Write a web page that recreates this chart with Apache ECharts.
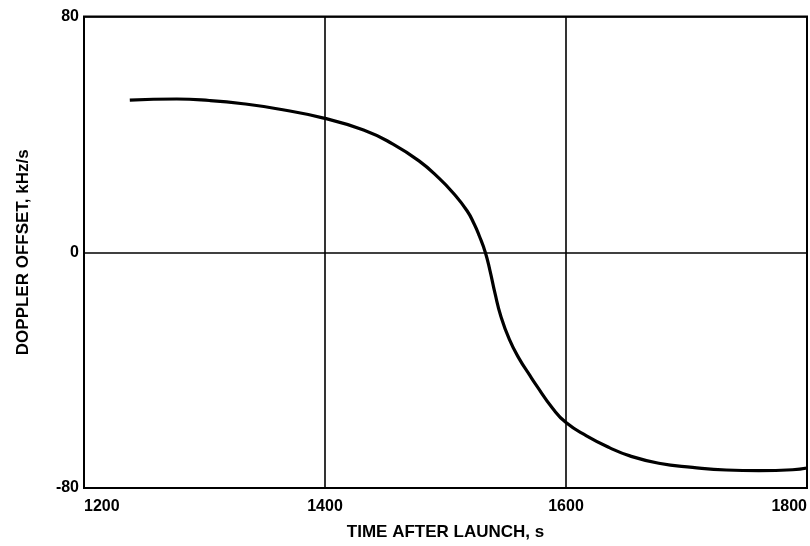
<!DOCTYPE html>
<html>
<head>
<meta charset="utf-8">
<script src="https://cdn.jsdelivr.net/npm/echarts@6/dist/echarts.min.js"></script>
<style>
html,body{margin:0;padding:0;background:#fff;}
#chart{width:810px;height:546px;}
</style>
</head>
<body>
<div id="chart"></div>
<script>
const timeValues = [1238, 1277, 1304, 1332, 1360, 1398, 1432, 1456, 1478, 1495, 1506, 1518, 1524, 1528, 1533, 1537, 1541, 1546, 1553, 1561, 1570, 1575, 1589, 1600, 1617, 1636, 1653, 1677, 1705, 1733, 1760, 1788, 1800];
const dopplerValues = [51.6, 52.0, 51.5, 50.4, 48.7, 45.6, 41.5, 36.8, 31.0, 25.0, 20.3, 14.0, 9.4, 5.6, 0.0, -6.4, -13.8, -21.8, -29.6, -36.0, -41.8, -44.9, -53.0, -57.8, -62.3, -66.3, -69.1, -71.6, -73.0, -73.9, -74.1, -73.8, -73.2];
const xTicks = [1200, 1400, 1600, 1800];
const yTicks = [-80, 0, 80];
const xTitle = 'TIME AFTER LAUNCH, s';
const yTitle = 'DOPPLER OFFSET, kHz/s';

const points = timeValues.map((t, i) => [t, dopplerValues[i]]);
const font = '"Liberation Sans", Arial, sans-serif';

const chart = echarts.init(document.getElementById('chart'), null, {renderer: 'canvas'});
chart.setOption({
  animation: false,
  backgroundColor: '#fff',
  grid: {
    left: 84, right: 2, top: 16.5, bottom: 55.5,
    show: true, borderColor: '#000', borderWidth: 2, backgroundColor: 'transparent'
  },
  xAxis: {
    type: 'value',
    min: xTicks[0], max: xTicks[xTicks.length - 1], interval: 200,
    name: xTitle, nameLocation: 'middle', nameGap: 36,
    nameTextStyle: {color: '#000', fontFamily: font, fontWeight: 'bold', fontSize: 17},
    axisLine: {show: false},
    axisTick: {show: false},
    axisLabel: {
      color: '#000', fontFamily: font, fontWeight: 'bold', fontSize: 16, margin: 11,
      alignMinLabel: 'left', alignMaxLabel: 'right',
      formatter: v => String(v)
    },
    splitLine: {show: true, lineStyle: {color: '#000', width: 1.6}}
  },
  yAxis: {
    type: 'value',
    min: yTicks[0], max: yTicks[yTicks.length - 1], interval: 80,
    name: yTitle, nameLocation: 'middle', nameGap: 52, nameRotate: 90,
    nameTextStyle: {color: '#000', fontFamily: font, fontWeight: 'bold', fontSize: 17},
    axisLine: {show: false},
    axisTick: {show: false},
    axisLabel: {color: '#000', fontFamily: font, fontWeight: 'bold', fontSize: 16, margin: 5,
      formatter: v => String(v)},
    splitLine: {show: true, lineStyle: {color: '#000', width: 1.6}}
  },
  series: [{
    type: 'line',
    data: points,
    showSymbol: false,
    smooth: 0.5,
    lineStyle: {color: '#000', width: 3.2},
    z: 5
  }]
});
</script>
</body>
</html>
